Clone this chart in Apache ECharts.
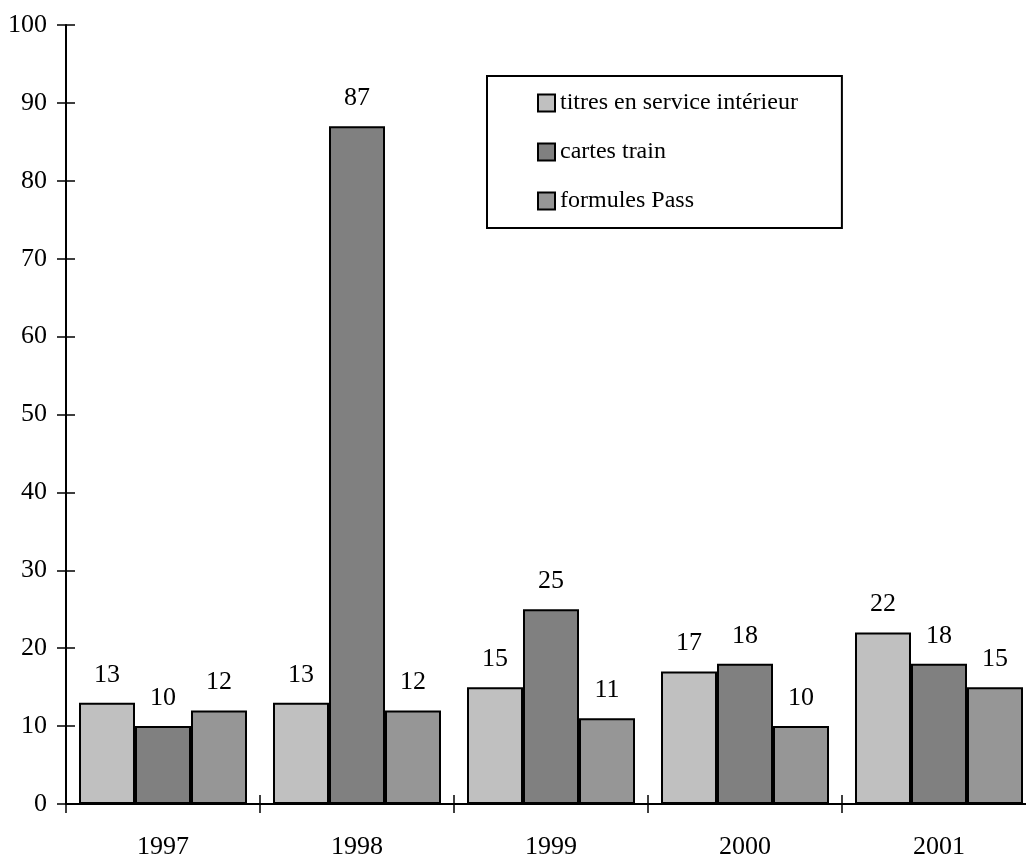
<!DOCTYPE html>
<html>
<head>
<meta charset="utf-8">
<script src="https://cdn.jsdelivr.net/npm/echarts@6/dist/echarts.min.js"></script>
<style>
  html, body { margin: 0; padding: 0; background: #ffffff; }
  #chart { width: 1026px; height: 859px; }
</style>
</head>
<body>
<div id="chart"></div>
<script>
// Years on the category axis
const years = ['1997', '1998', '1999', '2000', '2001'];

// Series values per year
const titresService = [13, 13, 15, 17, 22];
const cartesTrain = [10, 87, 25, 18, 18];
const formulesPass = [12, 12, 11, 10, 15];

// Series names shown in the legend
const seriesNames = ['titres en service intérieur', 'cartes train', 'formules Pass'];
const seriesColors = ['#c0c0c0', '#808080', '#969696'];

const FONT = '"Liberation Serif", "DejaVu Serif", serif';

const chart = echarts.init(document.getElementById('chart'), null, { renderer: 'canvas' });

function makeSeries(name, data, color) {
  return {
    name: name,
    type: 'bar',
    xAxisIndex: 0,
    yAxisIndex: 0,
    data: data,
    barGap: '0%',
    barCategoryGap: '13.4%',
    itemStyle: { color: color, borderColor: '#000', borderWidth: 2 },
    label: {
      show: true,
      position: 'top',
      distance: 15,
      color: '#000',
      fontFamily: FONT,
      fontSize: 26
    },
    emphasis: { disabled: true },
    animation: false
  };
}

chart.setOption({
  backgroundColor: '#ffffff',
  animation: false,
  // the last category runs a little past the right edge
  grid: {
    left: 66, width: 970, top: 25, bottom: 55,
    containLabel: false,
    outerBoundsMode: 'none'
  },
  legend: {
    orient: 'vertical',
    left: 487,
    top: 76,
    data: seriesNames,
    icon: 'rect',
    itemWidth: 17,
    itemHeight: 17,
    itemGap: 25,
    padding: [15, 44, 15, 50],
    borderColor: '#000',
    borderWidth: 2,
    textStyle: { color: '#000', fontFamily: FONT, fontSize: 24 },
    selectedMode: false
  },
  xAxis: [
    {
      type: 'category',
      data: years,
      position: 'bottom',
      boundaryGap: true,
      axisLine: { show: true, lineStyle: { color: '#000', width: 2 } },
      axisTick: { show: true, inside: false, length: 9, lineStyle: { color: '#000', width: 1.5 } },
      axisLabel: { color: '#000', fontFamily: FONT, fontSize: 26, margin: 30 },
      splitLine: { show: false }
    },
    {
      // inner half of the crossing tick marks
      type: 'category',
      data: years,
      position: 'bottom',
      boundaryGap: true,
      axisLine: { show: false },
      axisTick: { show: true, inside: true, length: 9, lineStyle: { color: '#000', width: 1.5 } },
      axisLabel: { show: false },
      splitLine: { show: false }
    }
  ],
  yAxis: [
    {
      type: 'value',
      min: 0,
      max: 100,
      interval: 10,
      position: 'left',
      axisLine: { show: true, lineStyle: { color: '#000', width: 2 } },
      axisTick: { show: true, inside: false, length: 9, lineStyle: { color: '#000', width: 1.5 } },
      axisLabel: { color: '#000', fontFamily: FONT, fontSize: 26, margin: 19 },
      splitLine: { show: false }
    },
    {
      type: 'value',
      min: 0,
      max: 100,
      interval: 10,
      position: 'left',
      axisLine: { show: false },
      axisTick: { show: true, inside: true, length: 9, lineStyle: { color: '#000', width: 1.5 } },
      axisLabel: { show: false },
      splitLine: { show: false }
    }
  ],
  series: [
    makeSeries(seriesNames[0], titresService, seriesColors[0]),
    makeSeries(seriesNames[1], cartesTrain, seriesColors[1]),
    makeSeries(seriesNames[2], formulesPass, seriesColors[2])
  ]
});
</script>
</body>
</html>
